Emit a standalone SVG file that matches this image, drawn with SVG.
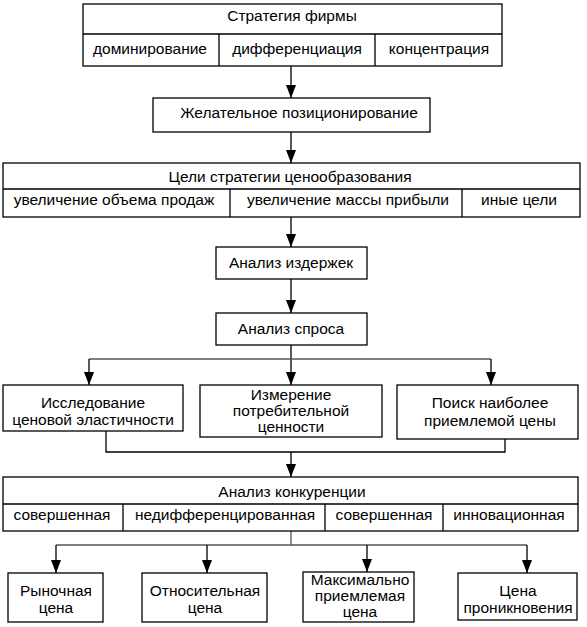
<svg xmlns="http://www.w3.org/2000/svg" width="587" height="627" viewBox="0 0 587 627">
<defs>
<style>
.b{fill:#fff;stroke:#000;stroke-width:1.3}
.l{fill:none;stroke:#000;stroke-width:1.3}
.g{fill:none;stroke:#555;stroke-width:1.3}
text{font-family:"Liberation Sans",Arial,sans-serif;font-size:15.5px;fill:#000;text-anchor:middle}
</style>
<marker id="ah" viewBox="0 0 13 10" refX="13" refY="5" markerWidth="13" markerHeight="10" markerUnits="userSpaceOnUse" orient="auto">
<path d="M0,0 L13,5 L0,10 z" fill="#000"/>
</marker>
</defs>
<rect width="587" height="627" fill="#fff"/>
<g id="connectors">
<path class="l" d="M291,66 V98" marker-end="url(#ah)"/>
<path class="l" d="M291,132 V163" marker-end="url(#ah)"/>
<path class="l" d="M291,217 V247" marker-end="url(#ah)"/>
<path class="l" d="M291,279 V313" marker-end="url(#ah)"/>
<path class="l" d="M291,345 V385" marker-end="url(#ah)"/>
<path class="g" d="M89,359 H491"/>
<path class="l" d="M89,359 V385" marker-end="url(#ah)"/>
<path class="l" d="M491,359 V385" marker-end="url(#ah)"/>
<path class="l" d="M106,431 V452 H505 V439"/>
<path class="l" d="M291,452 V477" marker-end="url(#ah)"/>
<path class="g" d="M291,531 V545"/>
<path class="g" d="M56,545 H527"/>
<path class="l" d="M56,545 V573" marker-end="url(#ah)"/>
<path class="l" d="M207,545 V573" marker-end="url(#ah)"/>
<path class="l" d="M367,545 V572" marker-end="url(#ah)"/>
<path class="l" d="M527,545 V573" marker-end="url(#ah)"/>
</g>
<g id="strategy">
<rect class="b" x="83" y="4" width="419" height="62"/>
<path class="l" d="M83,34 H502 M219,34 V66 M375,34 V66"/>
<text x="292" y="21">Стратегия фирмы</text>
<text x="150" y="54">доминирование</text>
<text x="297" y="54">дифференциация</text>
<text x="439" y="54">концентрация</text>
</g>
<g id="positioning">
<rect class="b" x="153" y="98" width="277" height="34"/>
<text x="299" y="118">Желательное позиционирование</text>
</g>
<g id="goals">
<rect class="b" x="3" y="163" width="577" height="54"/>
<path class="l" d="M3,189 H580 M230,189 V217 M462,189 V217"/>
<text x="290" y="182">Цели стратегии ценообразования</text>
<text x="114" y="205">увеличение объема продаж</text>
<text x="348" y="205">увеличение массы прибыли</text>
<text x="519" y="205">иные цели</text>
</g>
<g id="costs">
<rect class="b" x="216" y="247" width="151" height="32"/>
<text x="291" y="268">Анализ издержек</text>
</g>
<g id="demand">
<rect class="b" x="216" y="313" width="151" height="32"/>
<text x="291" y="334">Анализ спроса</text>
</g>
<g id="elasticity">
<rect class="b" x="3" y="385" width="180" height="46"/>
<text x="93" y="408">Исследование</text>
<text x="93" y="425">ценовой эластичности</text>
</g>
<g id="value">
<rect class="b" x="200" y="385" width="182" height="52"/>
<text x="291" y="400">Измерение</text>
<text x="291" y="416">потребительной</text>
<text x="291" y="432">ценности</text>
</g>
<g id="acceptable">
<rect class="b" x="397" y="385" width="181" height="54"/>
<text x="490" y="408">Поиск наиболее</text>
<text x="490" y="426">приемлемой цены</text>
</g>
<g id="competition">
<rect class="b" x="3" y="477" width="575" height="54"/>
<path class="l" d="M3,504 H578 M123,504 V531 M325,504 V531 M443,504 V531"/>
<text x="292" y="497">Анализ конкуренции</text>
<text x="62" y="520">совершенная</text>
<text x="225" y="520">недифференцированная</text>
<text x="384" y="520">совершенная</text>
<text x="509" y="520">инновационная</text>
</g>
<g id="market">
<rect class="b" x="8" y="573" width="95" height="49"/>
<text x="56" y="596">Рыночная</text>
<text x="56" y="613">цена</text>
</g>
<g id="relative">
<rect class="b" x="142" y="573" width="125" height="49"/>
<text x="205" y="596">Относительная</text>
<text x="205" y="613">цена</text>
</g>
<g id="maximal">
<rect class="b" x="303" y="572" width="111" height="50"/>
<text x="360" y="585">Максимально</text>
<text x="360" y="601">приемлемая</text>
<text x="360" y="617">цена</text>
</g>
<g id="penetration">
<rect class="b" x="458" y="573" width="119" height="47"/>
<text x="518" y="596">Цена</text>
<text x="518" y="613">проникновения</text>
</g>
</svg>
